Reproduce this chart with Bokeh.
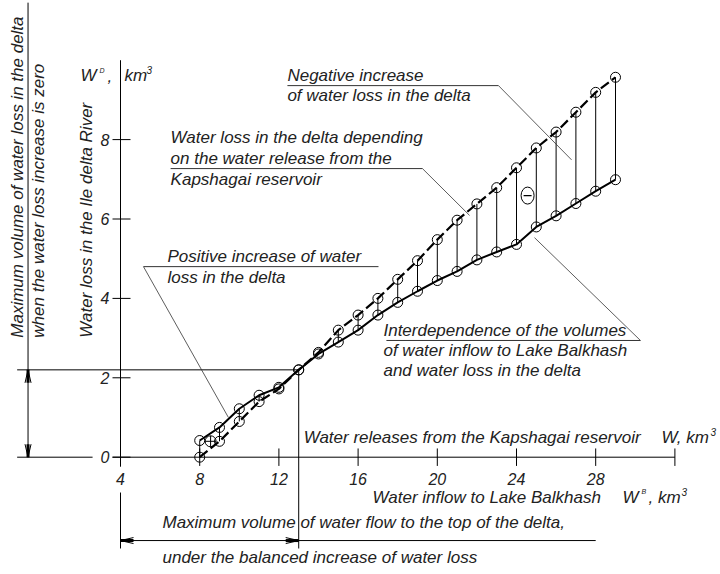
import numpy as np
from bokeh.plotting import figure
from bokeh.models import ColumnDataSource
from bokeh.core.properties import value
from bokeh.embed import file_html
from bokeh.resources import INLINE

# ---------------- data ----------------
W = [8, 9, 10, 11, 12, 13, 14, 15, 16, 17, 18, 19, 20, 21, 22, 23, 24, 25, 26, 27, 28, 29]
loss_release = [0.0, 0.4, 0.9, 1.4, 1.72, 2.2, 2.64, 3.2, 3.58, 4.0, 4.48, 4.95, 5.48, 5.97,
                6.38, 6.79, 7.29, 7.79, 8.19, 8.69, 9.19, 9.57]
loss_inflow = [0.42, 0.75, 1.22, 1.56, 1.76, 2.2, 2.6, 2.9, 3.2, 3.58, 3.9, 4.18, 4.45, 4.68,
               4.97, 5.17, 5.36, 5.8, 6.08, 6.39, 6.7, 6.99]
cross_point = ([8.55], [0.4])
x_ticks = [4, 8, 12, 16, 20, 24, 28, 32]
x_tick_labels = ["4", "8", "12", "16", "20", "24", "28", ""]
y_ticks = [0, 2, 4, 6, 8]
y_tick_labels = ["0", "2", "4", "6", "8"]
balance_W = 13.0
balance_D = 2.2

FONT = value("Liberation Sans")
INK = "#222222"
FS = "17px"

# data units per pixel
PX = 1 / 19.8
PY = 1 / 39.7

p = figure(width=720, height=574, x_range=(-2.061, 34.303), y_range=(-2.955, 11.504),
           output_backend="svg", toolbar_location=None, min_border=0,
           x_axis_type=None, y_axis_type=None)
p.grid.visible = False
p.outline_line_color = None
p.background_fill_color = "white"
p.border_fill_color = "white"

def txt(x, y, s, size=FS, align="left", baseline="middle", angle=0.0, style="italic"):
    p.text(x=x if isinstance(x, list) else [x], y=y if isinstance(y, list) else [y],
           text=s if isinstance(s, list) else [s], text_font=FONT, text_font_size=size,
           text_font_style=style, text_color=INK, text_align=align,
           text_baseline=baseline, angle=angle)

def seg(x0, y0, x1, y1, w=1.0, dash="solid", color="black"):
    p.segment(x0=[x0], y0=[y0], x1=[x1], y1=[y1], line_color=color, line_width=w, line_dash=dash)

# ---------------- axes (drawn in data space, crossing inside the frame) ----------------
x0 = x_ticks[0]
x_axis_end = x_ticks[-1]
seg(x0, 10.0, x0, -0.24, 1.0)
for t in y_ticks:
    seg(x0 - 8 * PX, t, x0 + 10 * PX, t, 1.0)
txt([x0 - 11 * PX] * len(y_ticks), y_ticks, y_tick_labels, size="16px", align="right")
seg(x0 - 8 * PX, 0, x_axis_end, 0, 1.0)
for t in x_ticks[1:]:
    seg(t, 0.22, t, -0.22, 1.0)
txt(x_ticks, [-0.55] * len(x_ticks), x_tick_labels, size="16px", align="center")

# axis titles
txt(x0 - 40 * PX, 9.61, "W")
txt(x0 - 21 * PX, 9.74, "D", size="7px")
txt(x0 - 13 * PX, 9.61, ",")
txt(x0 + 4 * PX, 9.61, "km")
txt(x0 + 26 * PX, 9.76, "3", size="10px")

txt(13.25, 0.5, "Water releases from the Kapshagai reservoir")
txt(31.32, 0.5, "W, km")
txt(31.32 + 49 * PX, 0.64, "3", size="10px")

txt(16.73, -1.01, "Water inflow to Lake Balkhash")
txt(29.35, -1.01, "W")
txt(29.35 + 19 * PX, -0.87, "B", size="7px")
txt(29.35 + 26 * PX, -1.01, ", km")
txt(29.35 + 59 * PX, -0.87, "3", size="10px")

# rotated left titles
txt(-1.2, 3.01, "Maximum volume of water loss in the delta", size="17px", angle=np.pi / 2)
txt(-0.15, 3.01, "when the water loss increase is zero", size="17px", angle=np.pi / 2)
txt(2.28, 3.01, "Water loss in the Ile delta River", size="17px", angle=np.pi / 2)

# ---------------- reference lines for the balance point ----------------
left_x = -0.67
seg(-1.22, balance_D, balance_W, balance_D, 1.0)           # horizontal at 2.2
seg(-1.22, 0, 2.59, 0, 1.0)                                  # zero line to the left
seg(left_x, 11.45, left_x, 0, 1.0)                           # left vertical line
seg(balance_W, balance_D, balance_W, -2.3, 1.0)              # vertical at W=13
seg(x0, -0.89, x0, -2.3, 1.0)                                # continuation of y axis below

# vertical double arrow between 0 and 2.2
hl, hw = 13 * PY, 3 * PX
for tip, sgn in ((balance_D, -1), (0.0, 1)):
    seg(left_x, tip, left_x, tip + sgn * hl, 3.0)
    seg(left_x, tip, left_x - hw, tip + sgn * hl, 1.0)
    seg(left_x, tip, left_x + hw, tip + sgn * hl, 1.0)

# horizontal double arrow at bottom
yb = -2.1
seg(x0, yb, 28.0, yb, 1.0)
hlx, hwy = 13 * PX, 3 * PY
for tip, sgn in ((x0, 1), (balance_W, -1)):
    seg(tip, yb, tip + sgn * hlx, yb, 3.0)
    seg(tip, yb, tip + sgn * hlx, yb + hwy, 1.0)
    seg(tip, yb, tip + sgn * hlx, yb - hwy, 1.0)
txt(6.12, -1.64, "Maximum volume of water flow to the top of the delta,")
txt(6.12, -2.53, "under the balanced increase of water loss")

# ---------------- data series ----------------
src = ColumnDataSource(dict(W=W, rel=loss_release, inf=loss_inflow))
p.segment(x0="W", y0="rel", x1="W", y1="inf", source=src, line_color="black", line_width=1.0)
p.line("W", "inf", source=src, line_color="black", line_width=2.0)
p.line("W", "rel", source=src, line_color="black", line_width=2.2, line_dash="10 4")
p.scatter("W", "inf", source=src, size=10, marker="circle", fill_color=None,
          line_color="black", line_width=1.0)
p.scatter("W", "rel", source=src, size=10, marker="circle", fill_color=None,
          line_color="black", line_width=1.0)
p.scatter(x=cross_point[0], y=cross_point[1], size=11, marker="circle_cross", fill_color=None,
          line_color="black", line_width=1.0)

# minus sign in the negative-increase zone
p.ellipse(x=[24.56], y=[6.59], width=13 * PX, height=17 * PY, fill_color=None,
          line_color="black", line_width=1.0)
seg(24.56 - 4 * PX, 6.59, 24.56 + 4 * PX, 6.59, 1.2)

# ---------------- callouts ----------------
LC = "#333333"
txt(12.43, 9.61, "Negative increase")
txt(12.43, 9.11, "of water loss in the delta")
seg(12.43, 9.36, 23.09, 9.36, 1.0, color=LC)
seg(23.09, 9.36, 26.78, 7.49, 0.8, color=LC)

txt(6.53, 8.05, "Water loss in the delta depending")
txt(6.53, 7.52, "on the water release from the")
txt(6.53, 6.99, "Kapshagai reservoir")
seg(6.53, 7.27, 19.25, 7.27, 1.0, color=LC)
seg(19.25, 7.27, 21.63, 6.09, 0.8, color=LC)

txt(6.37, 5.05, "Positive increase of water")
txt(6.37, 4.52, "loss in the delta")
seg(5.16, 4.80, 17.03, 4.80, 1.0, color=LC)
seg(5.16, 4.80, 9.45, 1.0, 0.8, color=LC)

txt(17.28, 3.19, "Interdependence of the volumes")
txt(17.28, 2.69, "of water inflow to Lake Balkhash")
txt(17.28, 2.18, "and water loss in the delta")
seg(17.43, 2.94, 30.26, 2.94, 1.0, color=LC)
seg(30.26, 2.94, 24.91, 5.53, 0.8, color=LC)

open("out.html", "w").write(file_html(p, INLINE))
